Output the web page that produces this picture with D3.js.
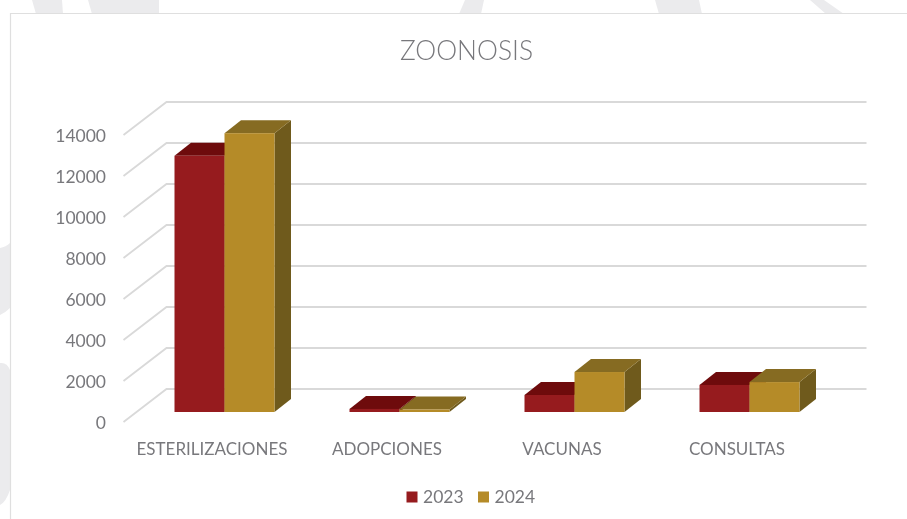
<!DOCTYPE html>
<html>
<head>
<meta charset="utf-8">
<script src="https://cdnjs.cloudflare.com/ajax/libs/d3/7.8.5/d3.min.js"></script>
<style>
  html, body { margin: 0; padding: 0; background: #fff; }
  svg { display: block; filter: blur(0.4px); }
  text { font-family: Lato, "Open Sans", sans-serif; fill: #78787c; }
</style>
</head>
<body>
<svg id="svg" width="907" height="519"></svg>
<script>
// values
const categories = ['ESTERILIZACIONES', 'ADOPCIONES', 'VACUNAS', 'CONSULTAS'];
const seriesNames = ['2023', '2024'];
const values2023 = [12500, 150, 830, 1320];
const values2024 = [13600, 120, 1950, 1460];
const yTicks = [0, 2000, 4000, 6000, 8000, 10000, 12000, 14000];

const colors = {
  '2023': { front: '#961b1e', top: '#6e0b0c', side: '#5c0a0b' },
  '2024': { front: '#b58b28', top: '#866b22', side: '#6f5a1c' }
};

const svg = d3.select('#svg');

// grey shapes of the page behind the chart panel
const backShapes = [
  'M32,0 L62,0 L63,14 L36,14 Z',
  'M88,0 L159,0 L159,14 L92,14 Z',
  'M465,0 L484,0 L481,14 L459,14 Z',
  'M655,0 L699,0 L702,14 L659,14 Z',
  'M810,0 L824,0 L844,14 L826,14 Z',
  'M0,248 Q6,247 10,243 L10,308 Q5,313 0,315 Z',
  'M0,363 Q7,362 10,370 L10,490 Q6,502 0,505 Z'
];
svg.selectAll('.back').data(backShapes).join('path')
  .attr('class', 'back')
  .attr('d', d => d)
  .attr('fill', '#ebebed');

// chart panel
svg.append('path')
  .attr('d', 'M10.5,519 L10.5,13.5 L907,13.5')
  .attr('fill', 'none')
  .attr('stroke', '#dfdfdf')
  .attr('stroke-width', 1.2);

// the floor front edge runs from x 123 to 823, the wall sits 43 right and 33 up of it
const depth = { x: 43, y: -33 };
const yScale = d3.scaleLinear().domain([0, 14000]).range([422, 135]);
const xScale = d3.scaleBand().domain(categories).range([123.5, 823.5]);
const barPos = d3.scaleBand().domain(seriesNames).range([0, 100]);

// bars stand a bit behind the floor edge
const barShift = { x: 13.5, y: -10 };
const barDepth = { x: 16.5, y: -13 };

const grid = svg.append('g');
yTicks.forEach(t => {
  const y = yScale(t);
  grid.append('path')
    .attr('d', `M${xScale.range()[0]},${y} L${xScale.range()[0] + depth.x},${y + depth.y} L${xScale.range()[1] + depth.x},${y + depth.y}`)
    .attr('fill', 'none')
    .attr('stroke', '#d9d9d9')
    .attr('stroke-width', 1.8);
});

// y axis labels
const yAxis = d3.axisLeft(yScale).tickValues(yTicks).tickSize(0).tickPadding(0).tickFormat(d3.format('d'));
const yG = svg.append('g').attr('transform', 'translate(106,1)').call(yAxis);
yG.select('.domain').remove();
yG.selectAll('text').style('font-size', '17.5px').attr('fill', null);

// x axis labels
const xAxis = d3.axisBottom(xScale).tickSize(0).tickPadding(0);
const xG = svg.append('g').attr('transform', 'translate(1,443)').call(xAxis);
xG.select('.domain').remove();
xG.selectAll('text').style('font-size', '17px').attr('fill', null);

// bars, 2023 first so 2024 covers its side
const bars = svg.append('g');
categories.forEach((cat, i) => {
  const groupX = xScale(cat) + (xScale.bandwidth() - 100) / 2 + barShift.x;
  seriesNames.forEach((name, s) => {
    const v = (s === 0 ? values2023 : values2024)[i];
    const c = colors[name];
    const x0 = groupX + barPos(name);
    const x1 = x0 + barPos.bandwidth();
    const y0 = yScale(0) + barShift.y;
    const y1 = yScale(v) + barShift.y;
    const dx = barDepth.x, dy = barDepth.y;
    bars.append('path')
      .attr('d', `M${x1},${y1} L${x1 + dx},${y1 + dy} L${x1 + dx},${y0 + dy} L${x1},${y0} Z`)
      .attr('fill', c.side);
    bars.append('path')
      .attr('d', `M${x0},${y1} L${x0 + dx},${y1 + dy} L${x1 + dx},${y1 + dy} L${x1},${y1} Z`)
      .attr('fill', c.top);
    bars.append('rect')
      .attr('x', x0).attr('y', y1)
      .attr('width', x1 - x0).attr('height', y0 - y1)
      .attr('fill', c.front);
  });
});

// title
svg.append('text')
  .attr('x', 466.5).attr('y', 60)
  .attr('text-anchor', 'middle')
  .attr('textLength', 133)
  .attr('lengthAdjust', 'spacingAndGlyphs')
  .style('font-size', '28px')
  .style('font-weight', 300)
  .text('ZOONOSIS');

// legend
const legendX = [406.5, 478];
seriesNames.forEach((name, i) => {
  svg.append('rect')
    .attr('x', legendX[i]).attr('y', 491.5)
    .attr('width', 11).attr('height', 11)
    .attr('fill', colors[name].front);
  svg.append('text')
    .attr('x', legendX[i] + 16.5).attr('y', 503)
    .style('font-size', '17.5px')
    .text(name);
});
</script>
</body>
</html>
